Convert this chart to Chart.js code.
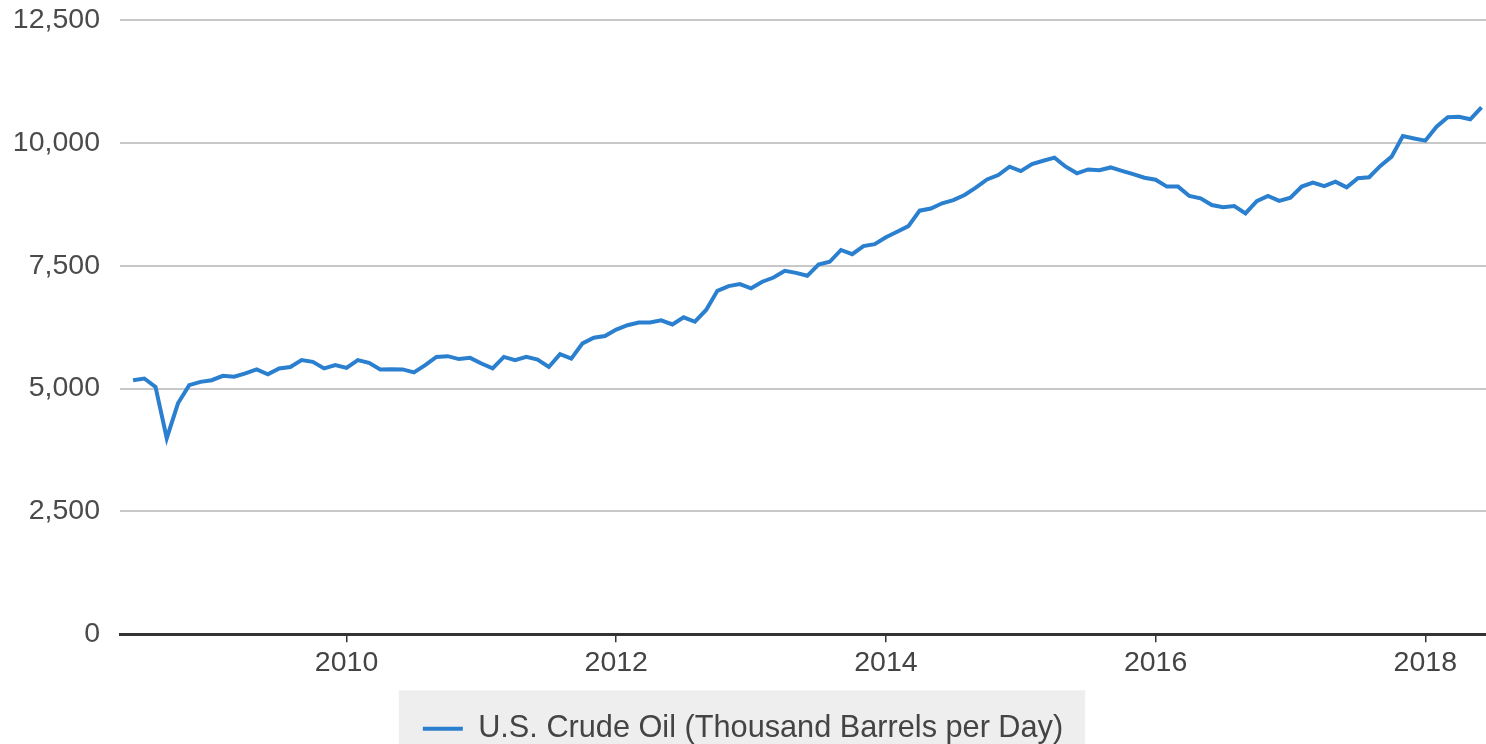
<!DOCTYPE html>
<html>
<head>
<meta charset="utf-8">
<script src="https://cdn.jsdelivr.net/npm/chart.js@4.4.1/dist/chart.umd.min.js"></script>
<style>
  html, body { margin: 0; padding: 0; background: #ffffff; overflow: hidden; }
  #wrap { width: 1486px; height: 754px; }
</style>
</head>
<body>
<div id="wrap"><canvas id="c" width="1486" height="754"></canvas></div>
<script>
// Monthly U.S. crude oil production (thousand barrels per day)
const seriesName = 'U.S. Crude Oil (Thousand Barrels per Day)';
const years = [2008, 2009, 2010, 2011, 2012, 2013, 2014, 2015, 2016, 2017, 2018];
const firstMonth = [6, 1, 1, 1, 1, 1, 1, 1, 1, 1, 1]; // first month present for each year
const prod2008 = [5170, 5205, 5035, 3990, 4700, 5070, 5137];
const prod2009 = [5170, 5260, 5240, 5310, 5390, 5290, 5410, 5440, 5580, 5545, 5410, 5477];
const prod2010 = [5420, 5580, 5525, 5390, 5395, 5390, 5330, 5477, 5645, 5660, 5600, 5625];
const prod2011 = [5510, 5410, 5645, 5580, 5645, 5590, 5440, 5700, 5610, 5920, 6035, 6070];
const prod2012 = [6200, 6290, 6345, 6345, 6390, 6305, 6450, 6360, 6600, 6990, 7085, 7125];
const prod2013 = [7040, 7175, 7260, 7395, 7355, 7295, 7525, 7580, 7820, 7735, 7900, 7940];
const prod2014 = [8080, 8190, 8305, 8620, 8665, 8770, 8835, 8940, 9090, 9255, 9345, 9515];
const prod2015 = [9425, 9570, 9635, 9700, 9515, 9380, 9460, 9445, 9500, 9430, 9365, 9290];
const prod2016 = [9250, 9110, 9110, 8920, 8870, 8735, 8690, 8715, 8565, 8815, 8920, 8820];
const prod2017 = [8885, 9110, 9190, 9120, 9210, 9095, 9280, 9300, 9530, 9720, 10140, 10090];
const prod2018 = [10045, 10330, 10520, 10530, 10480, 10720];
const yearlyValues = [prod2008, prod2009, prod2010, prod2011, prod2012, prod2013,
                      prod2014, prod2015, prod2016, prod2017, prod2018];
const xTickYears = [2010, 2012, 2014, 2016, 2018];
const yTicks = [0, 2500, 5000, 7500, 10000, 12500];

const points = [];
years.forEach((yr, i) => {
  yearlyValues[i].forEach((v, j) => {
    points.push({ x: yr + (firstMonth[i] - 1 + j) / 12, y: v });
  });
});

const BLUE = '#2b7fcf';
const FONT = '"Liberation Sans", Arial, Helvetica, sans-serif';

const legendBg = {
  id: 'legendBg',
  beforeDraw(chart) {
    const lg = chart.legend;
    if (!lg || !lg.legendHitBoxes || !lg.legendHitBoxes.length) return;
    const hb = lg.legendHitBoxes[0];
    const ctx = chart.ctx;
    ctx.save();
    ctx.fillStyle = '#eeeeee';
    ctx.fillRect(hb.left - 24, lg.top, hb.width + 46, chart.height - lg.top);
    ctx.restore();
  }
};

new Chart(document.getElementById('c'), {
  type: 'line',
  data: {
    datasets: [{
      label: seriesName,
      data: points,
      borderColor: BLUE,
      backgroundColor: BLUE,
      borderWidth: 4,
      pointRadius: 0,
      tension: 0,
      fill: false
    }]
  },
  options: {
    responsive: false,
    animation: false,
    devicePixelRatio: 1,
    layout: { autoPadding: false, padding: { top: 20, right: 0, bottom: 0, left: 0 } },
    scales: {
      x: {
        type: 'linear',
        min: 2008.32,
        max: 2018.45,
        afterBuildTicks: (axis) => { axis.ticks = xTickYears.map(v => ({ value: v })); },
        afterFit: (axis) => { axis.height = 56; axis.paddingLeft = 0; axis.paddingRight = 0; },
        border: { display: true, color: '#333333', width: 3 },
        grid: { display: true, drawOnChartArea: false, drawTicks: true, tickLength: 8, color: '#333333', lineWidth: 1.5 },
        ticks: {
          callback: (v) => String(v),
          color: '#444444',
          font: { family: FONT, size: 28.5 },
          padding: 4,
          maxRotation: 0
        }
      },
      y: {
        min: 0,
        max: 12500,
        afterBuildTicks: (axis) => { axis.ticks = yTicks.map(v => ({ value: v })); },
        afterFit: (axis) => { axis.width = 120; axis.paddingTop = 0; axis.paddingBottom = 0; },
        border: { display: false },
        grid: { color: '#c8c8c8', lineWidth: 2, drawTicks: false },
        ticks: {
          callback: (v) => v.toLocaleString('en-US'),
          color: '#4a4a4a',
          font: { family: FONT, size: 28.5 },
          padding: 20
        }
      }
    },
    plugins: {
      legend: {
        position: 'bottom',
        labels: {
          boxWidth: 40,
          boxHeight: 4,
          padding: 23,
          color: '#444444',
          font: { family: FONT, size: 30.7 },
          generateLabels: (chart) => {
            const items = Chart.defaults.plugins.legend.labels.generateLabels(chart);
            items.forEach(it => { it.lineWidth = 0; it.fillStyle = BLUE; });
            return items;
          }
        }
      },
      tooltip: { enabled: false }
    }
  },
  plugins: [legendBg]
});
</script>
</body>
</html>
